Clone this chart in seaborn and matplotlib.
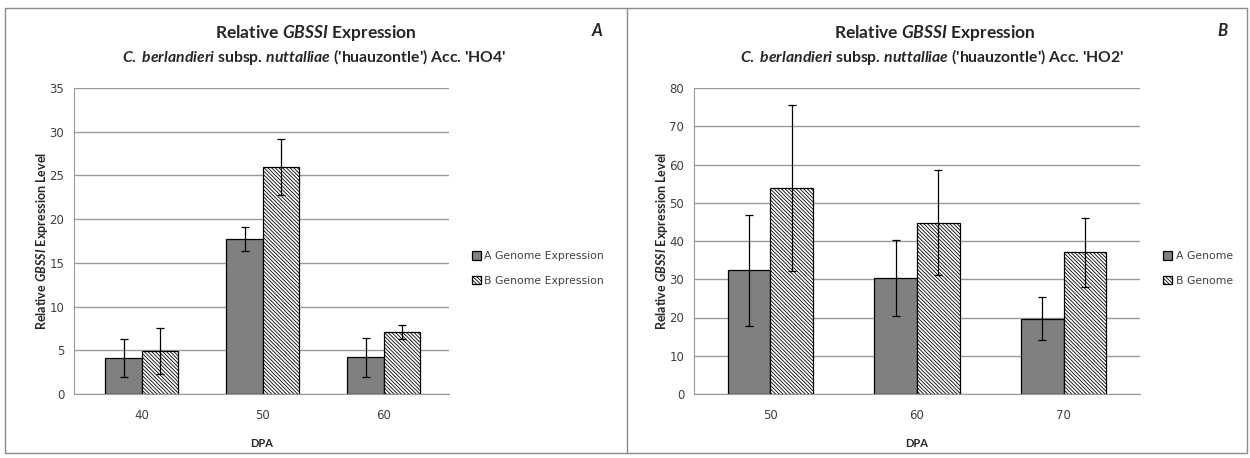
import numpy as np
import pandas as pd
import matplotlib
matplotlib.use("Agg")
import matplotlib.pyplot as plt
import seaborn as sns
from matplotlib.lines import Line2D

# panel A - accession HO4
dpa_a = ["40", "50", "60"]
a_genome_a = [4.1, 17.7, 4.2]
a_sd_a = [2.2, 1.4, 2.2]
b_genome_a = [4.9, 26.0, 7.05]
b_sd_a = [2.6, 3.2, 0.8]

# panel B - accession HO2
dpa_b = ["50", "60", "70"]
a_genome_b = [32.3, 30.3, 19.7]
a_sd_b = [14.5, 10.0, 5.7]
b_genome_b = [53.9, 44.8, 37.0]
b_sd_b = [21.7, 13.7, 9.0]

sns.set_style("white")
plt.rcParams["font.family"] = ["DejaVu Sans"]
plt.rcParams["mathtext.fontset"] = "custom"
plt.rcParams["mathtext.it"] = "Lato:italic:bold"
plt.rcParams["mathtext.rm"] = "Lato:bold"
plt.rcParams["hatch.linewidth"] = 0.6

fig = plt.figure(figsize=(12.5, 4.58), dpi=100)


def panel(rect, dpa, a_vals, a_sd, b_vals, b_sd, labels, ymax, ystep, width, xlim, leg_x):
    ax = fig.add_axes(rect)
    df = pd.DataFrame({
        "DPA": dpa * 2,
        "value": a_vals + b_vals,
        "genome": [labels[0]] * len(dpa) + [labels[1]] * len(dpa),
    })
    sns.barplot(data=df, x="DPA", y="value", hue="genome", order=dpa,
                hue_order=labels, palette=["#808080", "white"], width=width,
                errorbar=None, legend=False, ax=ax, zorder=2)
    bars = list(ax.containers)
    sds = [a_sd, b_sd]
    for i, cont in enumerate(bars):
        for bar, sd in zip(cont, sds[i]):
            bar.set_edgecolor("black")
            bar.set_linewidth(0.9)
            if i == 1:
                bar.set_hatch("\\" * 9)
            cx = bar.get_x() + bar.get_width() / 2
            ax.errorbar(cx, bar.get_height(), yerr=sd, color="black",
                        lw=0.9, capsize=3, capthick=0.9, zorder=3)
    ax.set_ylim(0, ymax)
    ax.set_yticks(np.arange(0, ymax + 1, ystep))
    ax.set_xlim(*xlim)
    ax.yaxis.grid(True, color="#9a9a9a", lw=1)
    ax.set_axisbelow(True)
    for s in ["top", "right"]:
        ax.spines[s].set_visible(False)
    ax.spines["left"].set_color("#9a9a9a")
    ax.spines["bottom"].set_color("#9a9a9a")
    ax.tick_params(axis="both", length=0, labelsize=8.5, colors="#404040")
    ax.tick_params(axis="x", pad=11)
    ax.tick_params(axis="y", pad=7)
    ax.set_xlabel("DPA", fontsize=8, fontweight="bold", family="Lato")
    ax.xaxis.set_label_coords(0.5, -0.145)
    ax.set_ylabel(r"Relative $\mathit{GBSSI}$ Expression Level", fontsize=9,
                  fontweight="bold", family="Lato")
    # label centre about 31 px left of the axis
    ax.yaxis.set_label_coords(-24 / (rect[2] * 1250), 0.5)
    ax.legend(handles=[c[0] for c in bars], labels=labels,
              loc="center left", bbox_to_anchor=(leg_x, 0.41), frameon=False,
              fontsize=7.8, handlelength=0.8, handleheight=0.8, handletextpad=0.35,
              labelspacing=1.35, labelcolor="#404040", borderpad=0, borderaxespad=0)
    return ax


ax1 = panel([74 / 1250, 64 / 458, 375 / 1250, 306 / 458], dpa_a, a_genome_a, a_sd_a,
            b_genome_a, b_sd_a, ["A Genome Expression", "B Genome Expression"],
            35, 5, 0.6, (-0.56, 2.54), 1.061)
ax2 = panel([694 / 1250, 64 / 458, 446 / 1250, 306 / 458], dpa_b, a_genome_b, a_sd_b,
            b_genome_b, b_sd_b, ["A Genome", "B Genome"],
            80, 10, 0.58, (-0.52, 2.52), 1.052)

# titles
for cx, acc, letter, lx in [(0.253, "HO4", "A", 0.4776), (0.748, "HO2", "B", 0.9776)]:
    fig.text(cx, 1 - 33 / 458, r"Relative $\mathit{GBSSI}$ Expression", ha="center",
             va="center", fontsize=12.5, fontweight="bold", family="Lato")
    fig.text(cx - 0.002, 1 - 57 / 458,
             r"$\mathit{C.}$ $\mathit{berlandieri}$ subsp. $\mathit{nuttalliae}$ ('huauzontle') Acc. '" + acc + "'",
             ha="center", va="center", fontsize=11.3, fontweight="bold", family="Lato")
    fig.text(lx, 1 - 31 / 458, letter, ha="center", va="center", fontsize=12,
             fontweight="bold", style="italic", family="Lato")

# panel frames
W, H = 1250, 458
for xs, ys in [((5, 1247), (8, 8)), ((5, 5), (8, 453)), ((627, 627), (8, 453)),
               ((1247, 1247), (8, 453)), ((5, 1247), (453, 453))]:
    fig.add_artist(Line2D([x / W for x in xs], [1 - y / H for y in ys],
                          color="#8c8c8c", lw=1))

fig.savefig("out.png", dpi=100)
